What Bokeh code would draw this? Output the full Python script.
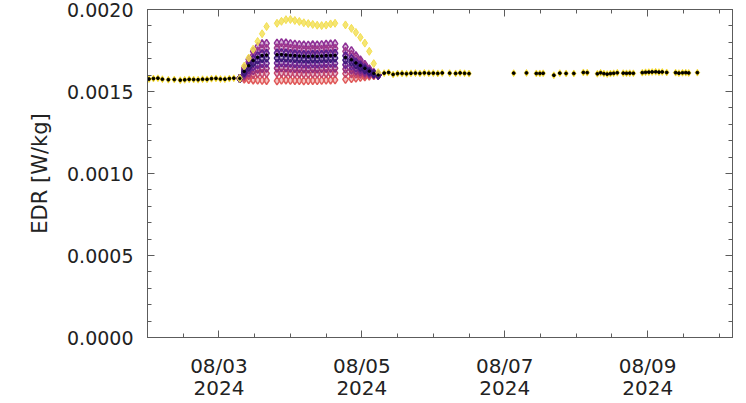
import pandas as pd
from bokeh.plotting import figure
from bokeh.models import (FixedTicker, NumeralTickFormatter, LinearAxis,
                          DatetimeAxis, Range1d)
from bokeh.embed import file_html
from bokeh.resources import INLINE

T0 = pd.Timestamp("2024-08-02 00:00")

# ---- baseline (all ensemble members coincide) : hours since 2024-08-02 00:00
base_hours = [0.5, 2.0, 3.5, 5.0, 7.0, 9.0, 11.0, 12.5, 14.0, 15.5, 17.0, 18.5,
              20.0, 21.5, 23.0, 24.5, 26.0, 27.5, 29.0,
              79.5, 81.0, 82.5, 84.0, 85.5, 87.0, 88.5, 90.0, 91.5, 93.0, 94.5,
              96.0, 97.5, 99.0, 101.5, 103.5, 105.0, 106.5, 108.0,
              123.0, 127.3, 130.6, 131.8, 132.9, 136.5, 138.5, 140.6, 143.2,
              146.4, 147.7, 151.1, 152.2, 153.3, 154.4, 155.5, 156.6, 157.8,
              159.8, 160.9, 162.0, 163.2, 166.2, 167.3, 168.4, 169.5, 170.7,
              171.8, 172.9, 174.4, 177.4, 178.5, 179.7, 180.8, 181.8, 184.7]
base_vals = [0.001576, 0.001579, 0.001581, 0.001575, 0.001572, 0.001573,
             0.001569, 0.001571, 0.001574, 0.001573, 0.001572, 0.001575,
             0.001574, 0.001578, 0.001580, 0.001576, 0.001575, 0.001579,
             0.001581,
             0.001612, 0.001616, 0.001604, 0.001609, 0.001610, 0.001608,
             0.001611, 0.001612, 0.001610, 0.001613, 0.001611, 0.001612,
             0.001610, 0.001613, 0.001612, 0.001610, 0.001613, 0.001611,
             0.001609,
             0.001612, 0.001613, 0.001610, 0.001610, 0.001611, 0.001599,
             0.001612, 0.001610, 0.001610, 0.001616, 0.001615, 0.001608,
             0.001614, 0.001609, 0.001606, 0.001609, 0.001611, 0.001614,
             0.001612, 0.001611, 0.001612, 0.001611, 0.001615, 0.001617,
             0.001618, 0.001619, 0.001620, 0.001618, 0.001619, 0.001616,
             0.001615, 0.001612, 0.001614, 0.001615, 0.001613, 0.001615]

# ---- disturbed interval: ensemble members
env_hours = [31.0, 32.5, 34.0, 35.5, 37.0, 38.5, 40.0,
             43.5, 45.0, 46.5, 48.0, 49.5, 51.0, 52.5, 54.0, 55.5, 57.0, 58.5,
             60.0, 61.5, 63.0,
             66.5, 68.5, 70.0, 71.5, 73.0, 74.5, 76.0, 77.5]
env_yellow = [0.001580, 0.001655, 0.001704, 0.001758, 0.001805, 0.001852,
              0.001896, 0.001916, 0.001928, 0.001938, 0.001939, 0.001933,
              0.001927, 0.001919, 0.001914, 0.001909, 0.001904, 0.001902,
              0.001905, 0.001912, 0.001916, 0.001906, 0.001885, 0.001860,
              0.001830, 0.001795, 0.001745, 0.001670, 0.001615]
env_row1 = [0.001580, 0.001643, 0.001696, 0.001745, 0.001774, 0.001791,
            0.001793, 0.001795, 0.001798, 0.001796, 0.001792, 0.001789,
            0.001786, 0.001784, 0.001783, 0.001785, 0.001784, 0.001786,
            0.001788, 0.001790, 0.001792, 0.001772, 0.001749, 0.001718,
            0.001692, 0.001665, 0.001638, 0.001615, 0.001600]
env_row2 = [0.001580, 0.001634, 0.001680, 0.001721, 0.001747, 0.001761,
            0.001763, 0.001765, 0.001768, 0.001766, 0.001762, 0.001759,
            0.001757, 0.001755, 0.001754, 0.001756, 0.001755, 0.001757,
            0.001759, 0.001760, 0.001762, 0.001745, 0.001726, 0.001700,
            0.001677, 0.001655, 0.001632, 0.001613, 0.001600]
env_row3 = [0.001580, 0.001625, 0.001663, 0.001698, 0.001719, 0.001731,
            0.001733, 0.001735, 0.001737, 0.001735, 0.001732, 0.001730,
            0.001728, 0.001726, 0.001725, 0.001727, 0.001726, 0.001728,
            0.001730, 0.001731, 0.001733, 0.001718, 0.001702, 0.001681,
            0.001663, 0.001645, 0.001626, 0.001610, 0.001600]
env_row4 = [0.001580, 0.001616, 0.001647, 0.001674, 0.001691, 0.001701,
            0.001703, 0.001704, 0.001706, 0.001704, 0.001702, 0.001700,
            0.001698, 0.001697, 0.001696, 0.001698, 0.001697, 0.001699,
            0.001700, 0.001701, 0.001703, 0.001691, 0.001679, 0.001663,
            0.001648, 0.001634, 0.001620, 0.001608, 0.001600]
env_row5 = [0.001580, 0.001607, 0.001630, 0.001650, 0.001663, 0.001670,
            0.001672, 0.001673, 0.001675, 0.001673, 0.001671, 0.001669,
            0.001668, 0.001667, 0.001666, 0.001668, 0.001667, 0.001669,
            0.001670, 0.001671, 0.001672, 0.001663, 0.001655, 0.001643,
            0.001634, 0.001624, 0.001614, 0.001606, 0.001600]
env_row6 = [0.001580, 0.001598, 0.001613, 0.001627, 0.001635, 0.001640,
            0.001641, 0.001642, 0.001644, 0.001643, 0.001641, 0.001639,
            0.001638, 0.001637, 0.001636, 0.001638, 0.001637, 0.001639,
            0.001640, 0.001641, 0.001642, 0.001636, 0.001631, 0.001625,
            0.001619, 0.001614, 0.001608, 0.001603, 0.001600]
env_row7 = [0.001580, 0.001589, 0.001597, 0.001603, 0.001608, 0.001610,
            0.001611, 0.001612, 0.001613, 0.001612, 0.001610, 0.001609,
            0.001608, 0.001607, 0.001606, 0.001608, 0.001607, 0.001609,
            0.001610, 0.001611, 0.001612, 0.001609, 0.001608, 0.001606,
            0.001605, 0.001603, 0.001602, 0.001601, 0.001600]
env_row8 = [0.001580, 0.001576, 0.001573, 0.001570, 0.001569, 0.001568,
            0.001567, 0.001565, 0.001569, 0.001570, 0.001568, 0.001567,
            0.001566, 0.001565, 0.001566, 0.001567, 0.001566, 0.001568,
            0.001569, 0.001570, 0.001571, 0.001574, 0.001578, 0.001582,
            0.001586, 0.001590, 0.001594, 0.001597, 0.001600]
env_black = [0.001580, 0.001622, 0.001657, 0.001689, 0.001709, 0.001720,
             0.001722, 0.001724, 0.001725, 0.001723, 0.001721, 0.001719,
             0.001717, 0.001716, 0.001715, 0.001716, 0.001715, 0.001717,
             0.001719, 0.001720, 0.001721, 0.001708, 0.001694, 0.001674,
             0.001658, 0.001641, 0.001624, 0.001610, 0.001600]

x_major = ["2024-08-03", "2024-08-05", "2024-08-07", "2024-08-09"]
x_major_labels = ["08/03\n2024", "08/05\n2024", "08/07\n2024", "08/09\n2024"]
y_major = [0.0, 0.0005, 0.0010, 0.0015, 0.0020]


def to_dt(hours):
    return [T0 + pd.Timedelta(hours=h) for h in hours]


def to_ms(ts):
    return float((pd.Timestamp(ts) - pd.Timestamp("1970-01-01")) // pd.Timedelta(milliseconds=1))


AX = "#5c5c5c"
p = figure(width=746, height=403, x_axis_type="datetime",
           output_backend="svg", toolbar_location=None,
           x_range=Range1d(T0, T0 + pd.Timedelta(hours=196.5)),
           y_range=Range1d(0.0, 0.0020),
           min_border_left=147, min_border_right=14,
           min_border_top=9, min_border_bottom=60)
p.xgrid.visible = False
p.ygrid.visible = False
p.outline_line_color = AX
p.background_fill_color = "white"
p.border_fill_color = "white"

major_ms = [to_ms(d) for d in x_major]
minor_ms = [to_ms(T0 + pd.Timedelta(hours=12 * i)) for i in range(18)]
xt = FixedTicker(ticks=major_ms, minor_ticks=minor_ms)
yt = FixedTicker(ticks=y_major, minor_ticks=[round(0.0001 * i, 4) for i in range(21)])


def style(ax):
    ax.axis_line_color = AX
    ax.major_tick_line_color = AX
    ax.minor_tick_line_color = AX
    ax.major_tick_in = 7
    ax.major_tick_out = 0
    ax.minor_tick_in = 4
    ax.minor_tick_out = 0


xa = p.xaxis[0]
xa.ticker = xt
xa.major_label_overrides = dict(zip(major_ms, x_major_labels))
xa.major_label_text_font = "DejaVu Sans"
xa.major_label_text_font_size = "20px"
xa.major_label_text_line_height = 0.95
xa.major_label_text_color = "#222222"
xa.major_label_standoff = 16
style(xa)

ya = p.yaxis[0]
ya.ticker = yt
ya.formatter = NumeralTickFormatter(format="0.0000")
ya.major_label_text_font = "DejaVu Sans"
ya.major_label_text_font_size = "19px"
ya.major_label_text_color = "#222222"
ya.major_label_standoff = 14
ya.axis_label = "EDR [W/kg]"
ya.axis_label_text_font = "DejaVu Sans"
ya.axis_label_text_font_size = "21px"
ya.axis_label_text_font_style = "normal"
ya.axis_label_text_color = "#222222"
ya.axis_label_standoff = 12
style(ya)

# mirrored tick marks on top and right (no labels)
top = DatetimeAxis(ticker=xt, major_label_overrides={m: "" for m in major_ms},
                   major_label_standoff=0, major_label_text_color=None)
style(top)
p.add_layout(top, "above")
right = LinearAxis(ticker=yt, major_label_overrides={v: "" for v in y_major},
                   major_label_standoff=0, major_label_text_color=None)
style(right)
p.add_layout(right, "right")

# baseline
bx = to_dt(base_hours)
p.scatter(bx, base_vals, marker="diamond", size=7, fill_color="#f2d41c",
          line_color="#f2d41c", line_alpha=0.6)

ex = to_dt(env_hours)
rows = [(env_row8, "#e05a5a"), (env_row7, "#c4456c"), (env_row6, "#95307f"),
        (env_row1, "#8e3096"), (env_row2, "#a03a8c"), (env_row5, "#6b2592"),
        (env_row3, "#5a2190"), (env_row4, "#3b1a78")]
for vals, col in rows:
    p.scatter(ex, vals, marker="diamond", size=8, fill_color=col,
              fill_alpha=0.35, line_color=col, line_width=1.5)
p.scatter(ex, env_yellow, marker="diamond", size=8, fill_color="#f3df50",
          line_color="#f3df50", fill_alpha=0.8)

p.scatter(bx, base_vals, marker="circle", size=2.8, color="black")
p.scatter(ex, env_black, marker="circle", size=2.5, color="black")

open("out.html", "w").write(file_html(p, INLINE))
